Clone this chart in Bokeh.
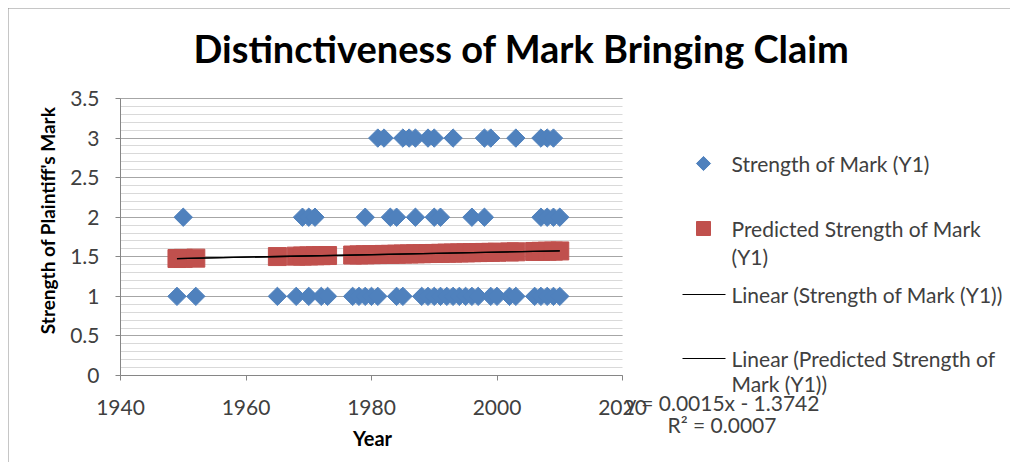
import numpy as np
from bokeh.plotting import figure
from bokeh.models import Range1d, FixedTicker, SingleIntervalTicker, Label, CustomJSTickFormatter
from bokeh.embed import file_html
from bokeh.resources import INLINE

# ---------------- data ----------------
TITLE = "Distinctiveness of Mark Bringing Claim"
X_LABEL = "Year"
Y_LABEL = "Strength of Plaintiff's Mark"
X_TICKS = [1940, 1960, 1980, 2000, 2020]
Y_MIN, Y_MAX = 0, 3.5

# years of cases by strength of mark (Y1)
years_strength_1 = [1949, 1952, 1965, 1968, 1970, 1972, 1973, 1977, 1978, 1979, 1980, 1981,
                    1984, 1985, 1988, 1989, 1990, 1991, 1992, 1993, 1994, 1995, 1996, 1997,
                    1999, 2000, 2002, 2003, 2006, 2007, 2008, 2009, 2010]
years_strength_2 = [1950, 1969, 1970, 1971, 1979, 1983, 1984, 1987, 1990, 1991, 1996, 1998,
                    2007, 2008, 2009, 2010]
years_strength_3 = [1981, 1982, 1985, 1986, 1987, 1989, 1990, 1993, 1998, 1999, 2003,
                    2007, 2008, 2009]

# predicted strength of mark (Y1)
pred_years = [1949, 1950, 1952, 1965, 1968, 1969, 1970, 1971, 1972, 1973, 1977, 1978, 1979,
              1980, 1981, 1982, 1983, 1984, 1985, 1986, 1987, 1988, 1989, 1990, 1991, 1992,
              1993, 1994, 1995, 1996, 1997, 1998, 1999, 2000, 2002, 2003, 2006, 2007, 2008,
              2009, 2010]
pred_values = [1.478, 1.480, 1.483, 1.503, 1.508, 1.509, 1.511, 1.513, 1.514, 1.516, 1.522,
               1.524, 1.525, 1.527, 1.528, 1.530, 1.531, 1.533, 1.535, 1.536, 1.538, 1.539,
               1.541, 1.542, 1.544, 1.546, 1.547, 1.549, 1.550, 1.552, 1.553, 1.555, 1.556,
               1.558, 1.561, 1.563, 1.567, 1.569, 1.571, 1.572, 1.574]

# linear trend lines (end points)
trend_x = [1949, 2010]
trend_strength_y = [1.478, 1.574]
trend_pred_y = [1.478, 1.574]

EQUATION = "y = 0.0015x - 1.3742"
R2_TEXT = "R\u00b2 = 0.0007"

LEGEND_1 = "Strength of Mark (Y1)"
LEGEND_2 = ["Predicted Strength of Mark", "(Y1)"]
LEGEND_3 = "Linear (Strength of Mark (Y1))"
LEGEND_4 = ["Linear (Predicted Strength of", "Mark (Y1))"]

BLUE = "#4F81BD"
RED = "#C0504D"
TXT = "#404040"
FONT = "Lato"
FS = "21px"

# ---------------- layout (page pixels) ----------------
W, H = 1002, 454
OFF = 8                      # page margin
PLOT_L, PLOT_R = 120, 622    # x pixels of first / last x tick
PLOT_T, PLOT_B = 98, 375     # y pixels of Y_MAX / Y_MIN
PX_X = (PLOT_R - PLOT_L) / (X_TICKS[-1] - X_TICKS[0])
PX_Y = (PLOT_B - PLOT_T) / (Y_MAX - Y_MIN)


def dx(px):  # page px -> data x
    return X_TICKS[0] + (px - PLOT_L) / PX_X


def dy(py):  # page px -> data y
    return Y_MIN + (PLOT_B - py) / PX_Y


p = figure(width=W, height=H,
           x_range=Range1d(dx(OFF), dx(OFF + W)), y_range=Range1d(dy(OFF + H), dy(OFF)),
           output_backend="svg", toolbar_location=None,
           min_border_left=0, min_border_right=0, min_border_top=0, min_border_bottom=0)
p.styles = {"margin-left": "8px", "margin-top": "8px",
            "outline": "1px solid #8c8c8c", "outline-offset": "-1px"}
p.outline_line_color = None
p.background_fill_color = "white"
p.border_fill_color = "white"

# axes
yt = SingleIntervalTicker(interval=0.5, num_minor_ticks=5)
p.yaxis.ticker = yt
p.ygrid.ticker = yt
p.yaxis.formatter = CustomJSTickFormatter(code="return tick.toString()")
p.yaxis.bounds = (Y_MIN, Y_MAX)
p.yaxis.fixed_location = X_TICKS[0]
p.xaxis.ticker = FixedTicker(ticks=X_TICKS)
p.xaxis.bounds = (X_TICKS[0], X_TICKS[-1])
p.xaxis.fixed_location = Y_MIN
p.xgrid.visible = False
p.ygrid.grid_line_color = "#a6a6a6"
p.ygrid.minor_grid_line_color = "#d9d9d9"
p.ygrid.bounds = (Y_MIN, Y_MAX)
p.ygrid.cross_bounds = (X_TICKS[0], X_TICKS[-1])
for ax in (p.xaxis, p.yaxis):
    ax.axis_line_color = "#868686"
    ax.major_tick_line_color = "#868686"
    ax.major_tick_out = 5
    ax.major_tick_in = 0
    ax.minor_tick_line_color = None
    ax.major_label_text_font = FONT
    ax.major_label_text_font_size = FS
    ax.major_label_text_color = TXT
p.yaxis.major_label_standoff = 16
p.xaxis.major_label_standoff = 19


def lab(text, px, py, size=FS, align="left", bold=False, color=TXT, angle=0):
    p.add_layout(Label(x=dx(px), y=dy(py), text=text, text_align=align, text_baseline="middle",
                       text_font=FONT, text_font_size=size, text_color=color,
                       text_font_style="bold" if bold else "normal", angle=angle))


lab(TITLE, 521, 47, size="38px", align="center", bold=True, color="black")
lab(X_LABEL, 372, 437, size="20px", align="center", bold=True, color="black")
lab(Y_LABEL, 47, 220, size="19px", align="center", bold=True, color="black", angle=np.pi / 2)
lab(LEGEND_1, 731, 163)
lab(LEGEND_2[0], 731, 228)
lab(LEGEND_2[1], 731, 256)
lab(LEGEND_3, 731, 294)
lab(LEGEND_4[0], 731, 358)
lab(LEGEND_4[1], 731, 383)
lab(EQUATION, 625, 402)
lab(R2_TEXT, 667, 424)

# data marks
sx = years_strength_1 + years_strength_2 + years_strength_3
sy = [1] * len(years_strength_1) + [2] * len(years_strength_2) + [3] * len(years_strength_3)
p.scatter(sx, sy, marker="square", angle=np.pi / 4, size=13, color=BLUE)
p.scatter(pred_years, pred_values, marker="square", size=18, color=RED)
p.line(trend_x, trend_strength_y, color="black", line_width=1.3)
p.line(trend_x, trend_pred_y, color="black", line_width=1.3)

# legend swatches
p.scatter([dx(703)], [dy(163)], marker="square", angle=np.pi / 4, size=10, color=BLUE)
p.scatter([dx(703)], [dy(228)], marker="square", size=14, color=RED)
p.line([dx(682), dx(725)], [dy(294), dy(294)], color="black", line_width=1)
p.line([dx(682), dx(725)], [dy(358), dy(358)], color="black", line_width=1)

open("out.html", "w").write(file_html(p, INLINE))
